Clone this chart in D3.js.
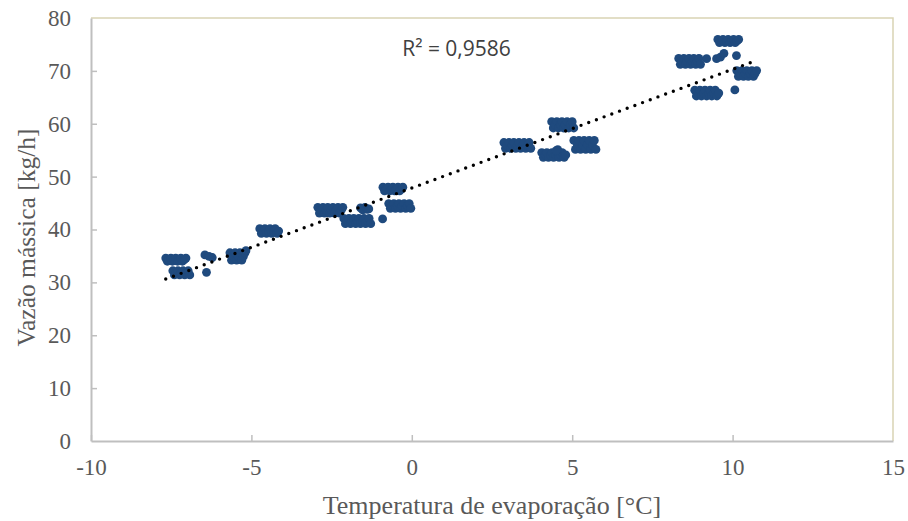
<!DOCTYPE html>
<html>
<head>
<meta charset="utf-8">
<script src="https://cdn.jsdelivr.net/npm/d3@7"></script>
<style>
  body { margin: 0; background: #fff; }
  svg text { fill: #595959; }
</style>
</head>
<body>
<svg id="chart"></svg>
<script>
const tempEvap = [
    [-7.67, -7.62, -7.57, -7.51, -7.46, -7.41, -7.36, -7.30, -7.25, -7.20, -7.15, -7.09, -7.04],
    [-7.45, -7.40, -7.35, -7.29, -7.24, -7.19, -7.13, -7.08, -7.03, -6.97, -6.92],
    [-6.40, -6.45, -6.22, -6.32],
    [-5.67, -5.62, -5.57, -5.51, -5.46, -5.41, -5.36, -5.30, -5.25, -5.20, -5.17],
    [-4.74, -4.69, -4.63, -4.58, -4.53, -4.47, -4.42, -4.37, -4.31, -4.26, -4.20, -4.15],
    [-2.93, -2.88, -2.83, -2.77, -2.72, -2.67, -2.62, -2.56, -2.51, -2.46, -2.41, -2.36, -2.30, -2.25, -2.20, -2.15],
    [-2.12, -2.07, -2.02, -1.96, -1.91, -1.86, -1.81, -1.75, -1.70, -1.65, -1.60, -1.54, -1.49, -1.44, -1.39, -1.33, -1.28],
    [-1.60, -1.53, -1.46, -1.39, -1.34, -0.91],
    [-0.90, -0.85, -0.80, -0.74, -0.69, -0.64, -0.59, -0.54, -0.49, -0.43, -0.38, -0.33, -0.28],
    [-0.72, -0.67, -0.61, -0.56, -0.51, -0.45, -0.40, -0.35, -0.30, -0.24, -0.19, -0.14, -0.08, -0.03],
    [2.87, 2.92, 2.97, 3.03, 3.08, 3.13, 3.18, 3.24, 3.29, 3.34, 3.39, 3.45, 3.50, 3.55, 3.60, 3.66, 3.71],
    [4.36, 4.41, 4.47, 4.52, 4.57, 4.63, 4.68, 4.73, 4.78, 4.84, 4.89, 4.94, 5.00, 5.05],
    [4.05, 4.10, 4.16, 4.21, 4.26, 4.32, 4.37, 4.42, 4.48, 4.53, 4.59, 4.64, 4.69, 4.75, 4.80, 4.55, 4.50],
    [5.05, 5.10, 5.16, 5.21, 5.26, 5.32, 5.37, 5.42, 5.47, 5.53, 5.58, 5.63, 5.69, 5.74],
    [8.32, 8.37, 8.42, 8.48, 8.53, 8.58, 8.64, 8.69, 8.74, 8.79, 8.85, 8.90, 8.95, 9.00],
    [9.19, 9.50, 9.62, 9.73, 10.12],
    [9.54, 9.59, 9.65, 9.70, 9.76, 9.81, 9.86, 9.92, 9.97, 10.03, 10.08, 10.14, 10.19],
    [8.82, 8.87, 8.93, 8.98, 9.03, 9.09, 9.14, 9.19, 9.25, 9.30, 9.35, 9.41, 9.46, 9.51, 9.57, 10.07],
    [10.13, 10.18, 10.23, 10.29, 10.34, 10.39, 10.44, 10.49, 10.55, 10.60, 10.65, 10.70, 10.75]
];
// Mass flow [kg/h], same rows
const massFlow = [
    [34.6, 34.0, 34.3, 34.6, 34.0, 34.3, 34.6, 34.0, 34.3, 34.6, 34.0, 34.3, 34.6],
    [32.2, 31.4, 31.8, 32.2, 31.4, 31.8, 32.2, 31.4, 31.8, 32.2, 31.4],
    [31.9, 35.2, 34.7, 34.9],
    [35.6, 34.2, 34.9, 35.6, 34.2, 34.9, 35.6, 34.2, 34.9, 35.6, 36.0],
    [40.15, 39.25, 39.7, 40.15, 39.25, 39.7, 40.15, 39.25, 39.7, 40.15, 39.25, 39.7],
    [44.2, 43.1, 43.65, 44.2, 43.1, 43.65, 44.2, 43.1, 43.65, 44.2, 43.1, 43.65, 44.2, 43.1, 43.65, 44.2],
    [42.1, 41.1, 41.6, 42.1, 41.1, 41.6, 42.1, 41.1, 41.6, 42.1, 41.1, 41.6, 42.1, 41.1, 41.6, 42.1, 41.1],
    [44.1, 43.7, 44.2, 43.8, 43.9, 42.0],
    [48.0, 47.3, 47.65, 48.0, 47.3, 47.65, 48.0, 47.3, 47.65, 48.0, 47.3, 47.65, 48.0],
    [44.9, 44.0, 44.45, 44.9, 44.0, 44.45, 44.9, 44.0, 44.45, 44.9, 44.0, 44.45, 44.9, 44.0],
    [56.45, 55.35, 55.9, 56.45, 55.35, 55.9, 56.45, 55.35, 55.9, 56.45, 55.35, 55.9, 56.45, 55.35, 55.9, 56.45, 55.35],
    [60.4, 59.2, 59.8, 60.4, 59.2, 59.8, 60.4, 59.2, 59.8, 60.4, 59.2, 59.8, 60.4, 59.2],
    [54.55, 53.65, 54.1, 54.55, 53.65, 54.1, 54.55, 53.65, 54.1, 54.55, 53.65, 54.1, 54.55, 53.65, 54.1, 55.1, 54.9],
    [56.85, 55.15, 56.0, 56.85, 55.15, 56.0, 56.85, 55.15, 56.0, 56.85, 55.15, 56.0, 56.85, 55.15],
    [72.35, 71.25, 71.8, 72.35, 71.25, 71.8, 72.35, 71.25, 71.8, 72.35, 71.25, 71.8, 72.35, 71.25],
    [72.3, 72.3, 72.6, 73.3, 72.9],
    [75.95, 75.35, 75.65, 75.95, 75.35, 75.65, 75.95, 75.35, 75.65, 75.95, 75.35, 75.65, 75.95],
    [66.35, 65.25, 65.8, 66.35, 65.25, 65.8, 66.35, 65.25, 65.8, 66.35, 65.25, 65.8, 66.35, 65.25, 65.8, 66.4],
    [70.05, 68.95, 69.5, 70.05, 68.95, 69.5, 70.05, 68.95, 69.5, 70.05, 68.95, 69.5, 70.05]
];

// linear trendline (Excel), as shown on the chart
const trendRange = [-7.67, 10.72];
const trendSlope = 2.245;
const trendIntercept = 47.85;
const trendLabel = "R² = 0,9586";

const xTicks = [-10, -5, 0, 5, 10, 15];
const yTicks = [0, 10, 20, 30, 40, 50, 60, 70, 80];

const width = 908;
const height = 521;
const margin = { top: 18, right: 15, bottom: 80, left: 91 };
const plotW = width - margin.left - margin.right;
const plotH = height - margin.top - margin.bottom;

const svg = d3.select("#chart").attr("width", width).attr("height", height);
const g = svg.append("g").attr("transform", `translate(${margin.left},${margin.top})`);

const x = d3.scaleLinear().domain([-10, 15]).range([0, plotW]);
const y = d3.scaleLinear().domain([0, 80]).range([plotH, 0]);

// plot area border (top and right are khaki)
g.append("path")
    .attr("d", `M0,0H${plotW}V${plotH}`)
    .attr("fill", "none")
    .attr("stroke", "#d9d4b4")
    .attr("stroke-width", 1.5);

// axes, ticks pointing into the plot; labels use a plain hyphen like the original
const xAxis = g.append("g")
    .attr("transform", `translate(0,${plotH})`)
    .call(d3.axisBottom(x).tickValues(xTicks).tickFormat(d => String(d))
        .tickSizeInner(-6).tickSizeOuter(0).tickPadding(18));
const yAxis = g.append("g")
    .call(d3.axisLeft(y).tickValues(yTicks).tickFormat(d => String(d))
        .tickSizeInner(-6).tickSizeOuter(0).tickPadding(20));

[xAxis, yAxis].forEach(ax => {
    ax.select(".domain").attr("stroke", "#bfbfbf").attr("stroke-width", 2);
    ax.selectAll(".tick line").attr("stroke", "#bfbfbf").attr("stroke-width", 1.5);
    ax.selectAll(".tick text")
        .attr("font-family", "'Liberation Serif', 'Times New Roman', serif")
        .attr("font-size", 23)
        .attr("fill", "#595959");
});
xAxis.selectAll(".tick text").attr("dy", "0.7em");
// the end ticks sit on the border, drop the grey mark there
xAxis.selectAll(".tick").filter(d => d === 15).select("line").remove();
yAxis.selectAll(".tick").filter(d => d === 80 || d === 0).select("line").remove();

// scatter points
const points = d3.zip(tempEvap.flat(), massFlow.flat()).map(p => ({ t: p[0], m: p[1] }));
g.selectAll("circle.pt")
    .data(points)
    .enter()
    .append("circle")
    .attr("class", "pt")
    .attr("cx", d => x(d.t))
    .attr("cy", d => y(d.m))
    .attr("r", 4.4)
    .attr("fill", "#1f4a7e");

// dotted trendline
const trendLine = d3.line()
    .x(d => x(d))
    .y(d => y(trendSlope * d + trendIntercept));
g.append("path")
    .datum(trendRange)
    .attr("d", trendLine)
    .attr("fill", "none")
    .attr("stroke", "#000")
    .attr("stroke-width", 3.4)
    .attr("stroke-linecap", "round")
    .attr("stroke-dasharray", "0 8.2");

g.append("text")
    .attr("x", x(-0.3))
    .attr("y", 38)
    .attr("font-family", "'Open Sans', sans-serif")
    .attr("font-size", 21)
    .style("fill", "#404040")
    .text(trendLabel);

// axis titles
svg.append("text")
    .attr("x", margin.left + plotW / 2)
    .attr("y", 514)
    .attr("text-anchor", "middle")
    .attr("font-family", "'Liberation Serif', 'Times New Roman', serif")
    .attr("font-size", 26)
    .text("Temperatura de evaporação [°C]");

svg.append("text")
    .attr("transform", `translate(35,${margin.top + plotH / 2 + 8}) rotate(-90)`)
    .attr("text-anchor", "middle")
    .attr("font-family", "'Liberation Serif', 'Times New Roman', serif")
    .attr("font-size", 25.5)
    .text("Vazão mássica [kg/h]");
</script>
</body>
</html>
